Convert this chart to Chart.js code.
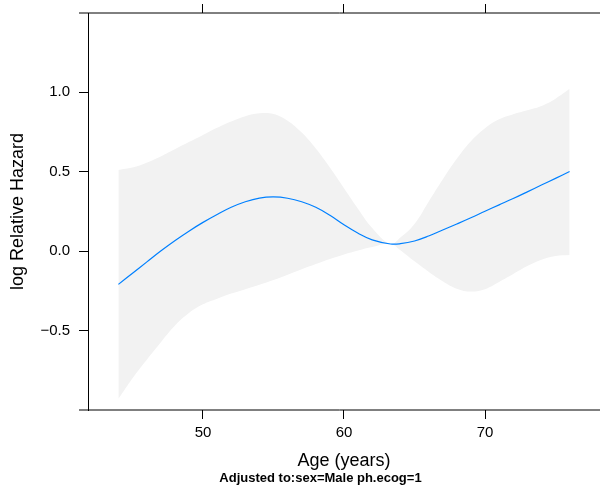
<!DOCTYPE html>
<html>
<head>
<meta charset="utf-8">
<script src="https://cdn.jsdelivr.net/npm/chart.js@4"></script>
<style>
	html, body { margin: 0; padding: 0; background: #fff; }
	#wrap { width: 600px; height: 488px; }
</style>
</head>
<body>
<div id="wrap"><canvas id="hazard-chart" width="600" height="488"></canvas></div>
<script>
// Idade (eixo x) e valores
const ages = [44, 45, 46, 47, 48, 49, 50, 51, 52, 53, 54, 55, 56, 57, 58, 59, 60, 61, 62, 63.3,
	64, 65, 66, 67, 68, 69, 70, 71, 72, 73, 74, 75, 76];
const logHazard = [-0.21, -0.14, -0.07, 0.0, 0.065, 0.125, 0.18, 0.23, 0.275, 0.31, 0.333, 0.34,
	0.332, 0.31, 0.275, 0.225, 0.165, 0.112, 0.07, 0.044,
	0.046, 0.063, 0.094, 0.132, 0.17, 0.209, 0.25, 0.29, 0.33, 0.372, 0.415, 0.457, 0.5];
const upperCI = [0.51, 0.525, 0.555, 0.595, 0.64, 0.685, 0.73, 0.775, 0.815, 0.848, 0.866, 0.862,
	0.82, 0.745, 0.645, 0.525, 0.395, 0.265, 0.145, 0.044,
	0.085, 0.17, 0.31, 0.45, 0.58, 0.69, 0.772, 0.828, 0.86, 0.885, 0.912, 0.958, 1.02];
const lowerCI = [-0.93, -0.8, -0.685, -0.575, -0.47, -0.39, -0.335, -0.3, -0.268, -0.24, -0.213, -0.183,
	-0.15, -0.115, -0.082, -0.05, -0.022, 0.003, 0.025, 0.044,
	0.005, -0.065, -0.13, -0.19, -0.237, -0.255, -0.24, -0.195, -0.145, -0.095, -0.055, -0.032, -0.025];

// Ticks dos eixos
const xTicks = [50, 60, 70];
const yTicks = [-0.5, 0, 0.5, 1.0];
const xTitle = "Age (years)";
const yTitle = "log Relative Hazard";
const subTitle = "Adjusted to:sex=Male ph.ecog=1";

const FONT = "'Liberation Sans', Arial, Helvetica, sans-serif";

// monta os pares {x, y}
const toPoints = (vals) => ages.map((a, i) => ({ x: a, y: vals[i] }));

// Formata como no R (sinal de menos verdadeiro)
const fmt = (v) => v.toFixed(1).replace("-", "\u2212");

/**
 * Desenha a moldura (linhas de cima e de baixo) e o subtítulo em negrito
 */
const framePlugin = {
	id: "frame",
	afterDraw(chart) {
		const { ctx, chartArea } = chart;
		ctx.save();
		ctx.strokeStyle = "#000";
		ctx.lineWidth = 1;
		ctx.beginPath();
		ctx.moveTo(chartArea.left - 9, chartArea.top);
		ctx.lineTo(chart.width, chartArea.top);
		ctx.moveTo(chartArea.left - 9, chartArea.bottom);
		ctx.lineTo(chart.width, chartArea.bottom);
		ctx.stroke();

		ctx.fillStyle = "#000";
		ctx.font = "bold 13px " + FONT;
		ctx.textAlign = "center";
		ctx.textBaseline = "alphabetic";
		ctx.fillText(subTitle, 320.5, 482);
		ctx.restore();
	},
};

// zera o padding que o Chart.js reserva para os rótulos
const noLabelPadding = (scale) => {
	scale.paddingTop = 0;
	scale.paddingBottom = 0;
	scale.paddingLeft = 0;
	scale.paddingRight = 0;
};

const ctx = document.getElementById("hazard-chart").getContext("2d");

new Chart(ctx, {
	type: "line",
	data: {
		datasets: [
			{
				label: "log hazard",
				data: toPoints(logHazard),
				borderColor: "#0080ff",
				borderWidth: 1.2,
				pointRadius: 0,
				fill: false,
				tension: 0.4,
				order: 0,
			},
			{
				label: "upper",
				data: toPoints(upperCI),
				borderWidth: 0,
				borderColor: "rgba(0,0,0,0)",
				backgroundColor: "#f2f2f2",
				pointRadius: 0,
				fill: "+1",
				tension: 0.4,
				order: 1,
			},
			{
				label: "lower",
				data: toPoints(lowerCI),
				borderWidth: 0,
				borderColor: "rgba(0,0,0,0)",
				pointRadius: 0,
				fill: false,
				tension: 0.4,
				order: 2,
			},
		],
	},
	options: {
		responsive: false,
		animation: false,
		layout: { padding: 0 },
		plugins: {
			legend: { display: false },
			tooltip: { enabled: false },
		},
		scales: {
			x: {
				type: "linear",
				position: "bottom",
				min: 41.844,
				max: 78.156,
				afterFit: (scale) => {
					scale.height = 78;
					noLabelPadding(scale);
				},
				afterBuildTicks: (scale) => {
					scale.ticks = xTicks.map((v) => ({ value: v }));
				},
				border: { display: false },
				grid: {
					drawOnChartArea: false,
					drawTicks: true,
					tickLength: 9,
					color: "#000",
				},
				ticks: {
					color: "#000",
					padding: 5,
					maxRotation: 0,
					font: { family: FONT, size: 15 },
					callback: (v) => String(v),
				},
				title: {
					display: true,
					text: xTitle,
					color: "#000",
					font: { family: FONT, size: 18 },
					padding: { top: 0, bottom: 16 },
				},
			},
			xTop: {
				type: "linear",
				position: "top",
				min: 41.844,
				max: 78.156,
				afterFit: (scale) => {
					scale.height = 13;
					noLabelPadding(scale);
				},
				afterBuildTicks: (scale) => {
					scale.ticks = xTicks.map((v) => ({ value: v }));
				},
				border: { display: false },
				grid: {
					drawOnChartArea: false,
					drawTicks: true,
					tickLength: 9,
					color: "#000",
				},
				ticks: { display: false },
			},
			y: {
				type: "linear",
				position: "left",
				min: -1.0,
				max: 1.497,
				afterFit: (scale) => {
					scale.width = 88;
					noLabelPadding(scale);
				},
				afterBuildTicks: (scale) => {
					scale.ticks = yTicks.map((v) => ({ value: v }));
				},
				border: { display: true, color: "#000", width: 1 },
				grid: {
					drawOnChartArea: false,
					drawTicks: true,
					tickLength: 9,
					color: "#000",
				},
				ticks: {
					color: "#000",
					padding: 9,
					font: { family: FONT, size: 15 },
					callback: (v) => fmt(v),
				},
				title: {
					display: true,
					text: yTitle,
					color: "#000",
					font: { family: FONT, size: 18 },
					padding: { top: 7.5, bottom: 0 },
				},
			},
		},
	},
	plugins: [framePlugin],
});
</script>
</body>
</html>
